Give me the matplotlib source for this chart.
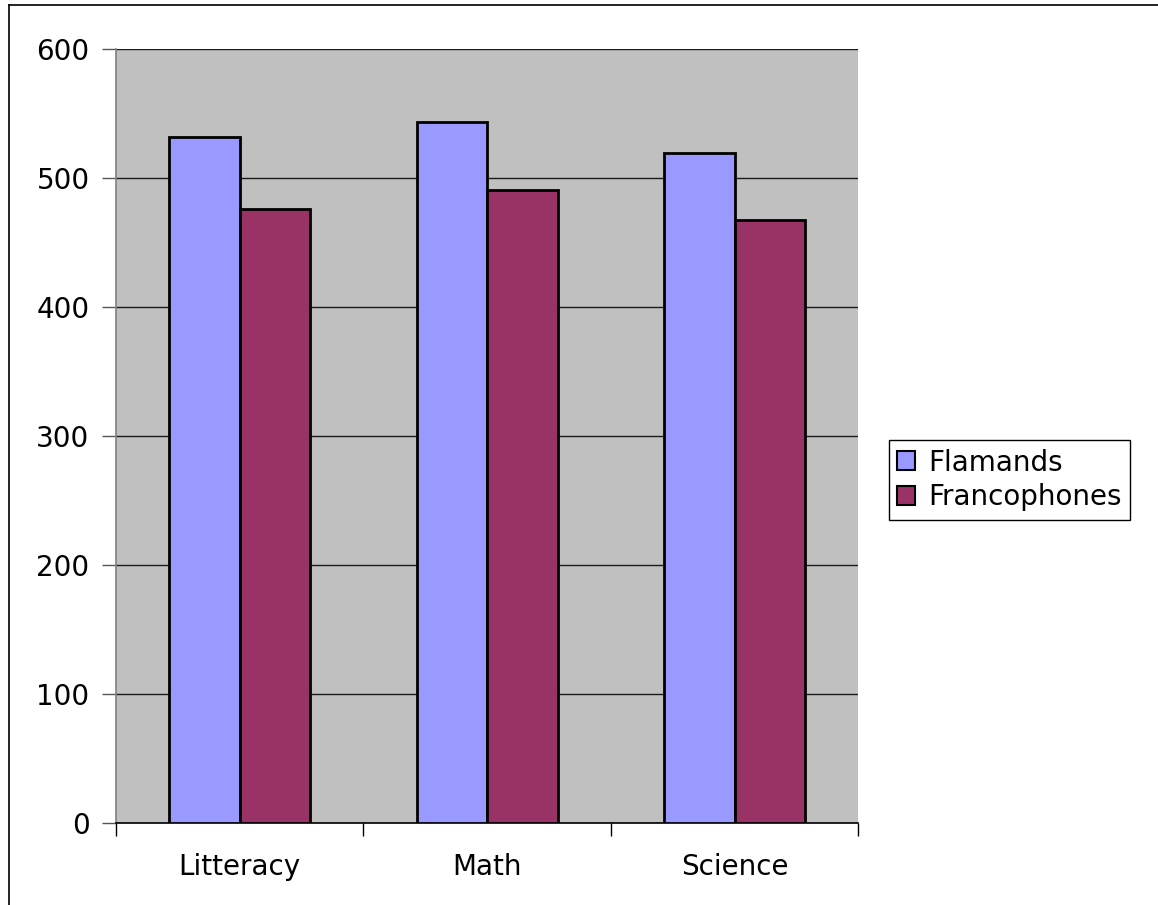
import matplotlib
matplotlib.use("Agg")
import matplotlib.pyplot as plt
from matplotlib.lines import Line2D
import numpy as np

categories = ["Litteracy", "Math", "Science"]
flamands = [532, 543, 519]
francophones = [476, 491, 467]
series_names = ["Flamands", "Francophones"]
yticks = [0, 100, 200, 300, 400, 500, 600]

W, H = 1158, 905
fig = plt.figure(figsize=(W / 100, H / 100), dpi=100)
ax = fig.add_axes([116 / W, 1 - 822.5 / H, (858.5 - 116) / W, (822.5 - 49) / H])
ax.set_facecolor("#C0C0C0")

x = np.arange(len(categories))
w = 1 / 3.5
ax.bar(x - w / 2, flamands, width=w, color="#9999FF", edgecolor="black", linewidth=2.0,
       label=series_names[0], zorder=3)
ax.bar(x + w / 2, francophones, width=w, color="#993366", edgecolor="black", linewidth=2.0,
       label=series_names[1], zorder=3)

ax.set_xlim(-0.5, len(categories) - 0.5)
ax.set_ylim(0, 600)
ax.set_yticks(yticks)
ax.set_yticklabels([str(v) for v in yticks], fontsize=20)
ax.yaxis.grid(True, color="#1a1a1a", linewidth=1.0, zorder=1)
ax.set_axisbelow(True)

ax.set_xticks(x)
ax.set_xticklabels(categories, fontsize=20)
ax.tick_params(axis="x", length=0, pad=22)
ax.set_xticks(np.arange(-0.5, len(categories)), minor=True)
ax.tick_params(axis="x", which="minor", length=9, width=1, color="black", direction="out")
ax.tick_params(axis="y", length=10, width=1, color="#555555", direction="out", pad=9)

for s in ["top", "right"]:
    ax.spines[s].set_visible(False)
ax.spines["left"].set_color("#808080")
ax.spines["left"].set_linewidth(1.2)
ax.spines["bottom"].set_color("black")
ax.spines["bottom"].set_linewidth(1.2)

leg = fig.legend(loc="center left", bbox_to_anchor=(889 / W, 1 - 480 / H),
                 fontsize=20, frameon=True, fancybox=False, edgecolor="black",
                 framealpha=1, handlelength=0.65, handleheight=0.65, handletextpad=0.45,
                 borderpad=0.3, labelspacing=0.25, borderaxespad=0)
leg.get_frame().set_linewidth(1.0)
for h in leg.legend_handles:
    h.set_linewidth(1.5)

# outer chart border (left and top visible)
fig.add_artist(Line2D([8.5 / W, 8.5 / W], [0, 1 - 5 / H], transform=fig.transFigure,
                      color="black", linewidth=1.2))
fig.add_artist(Line2D([8.5 / W, 1], [1 - 5 / H, 1 - 5 / H], transform=fig.transFigure,
                      color="black", linewidth=1.2))

fig.savefig("out.png", dpi=100)
